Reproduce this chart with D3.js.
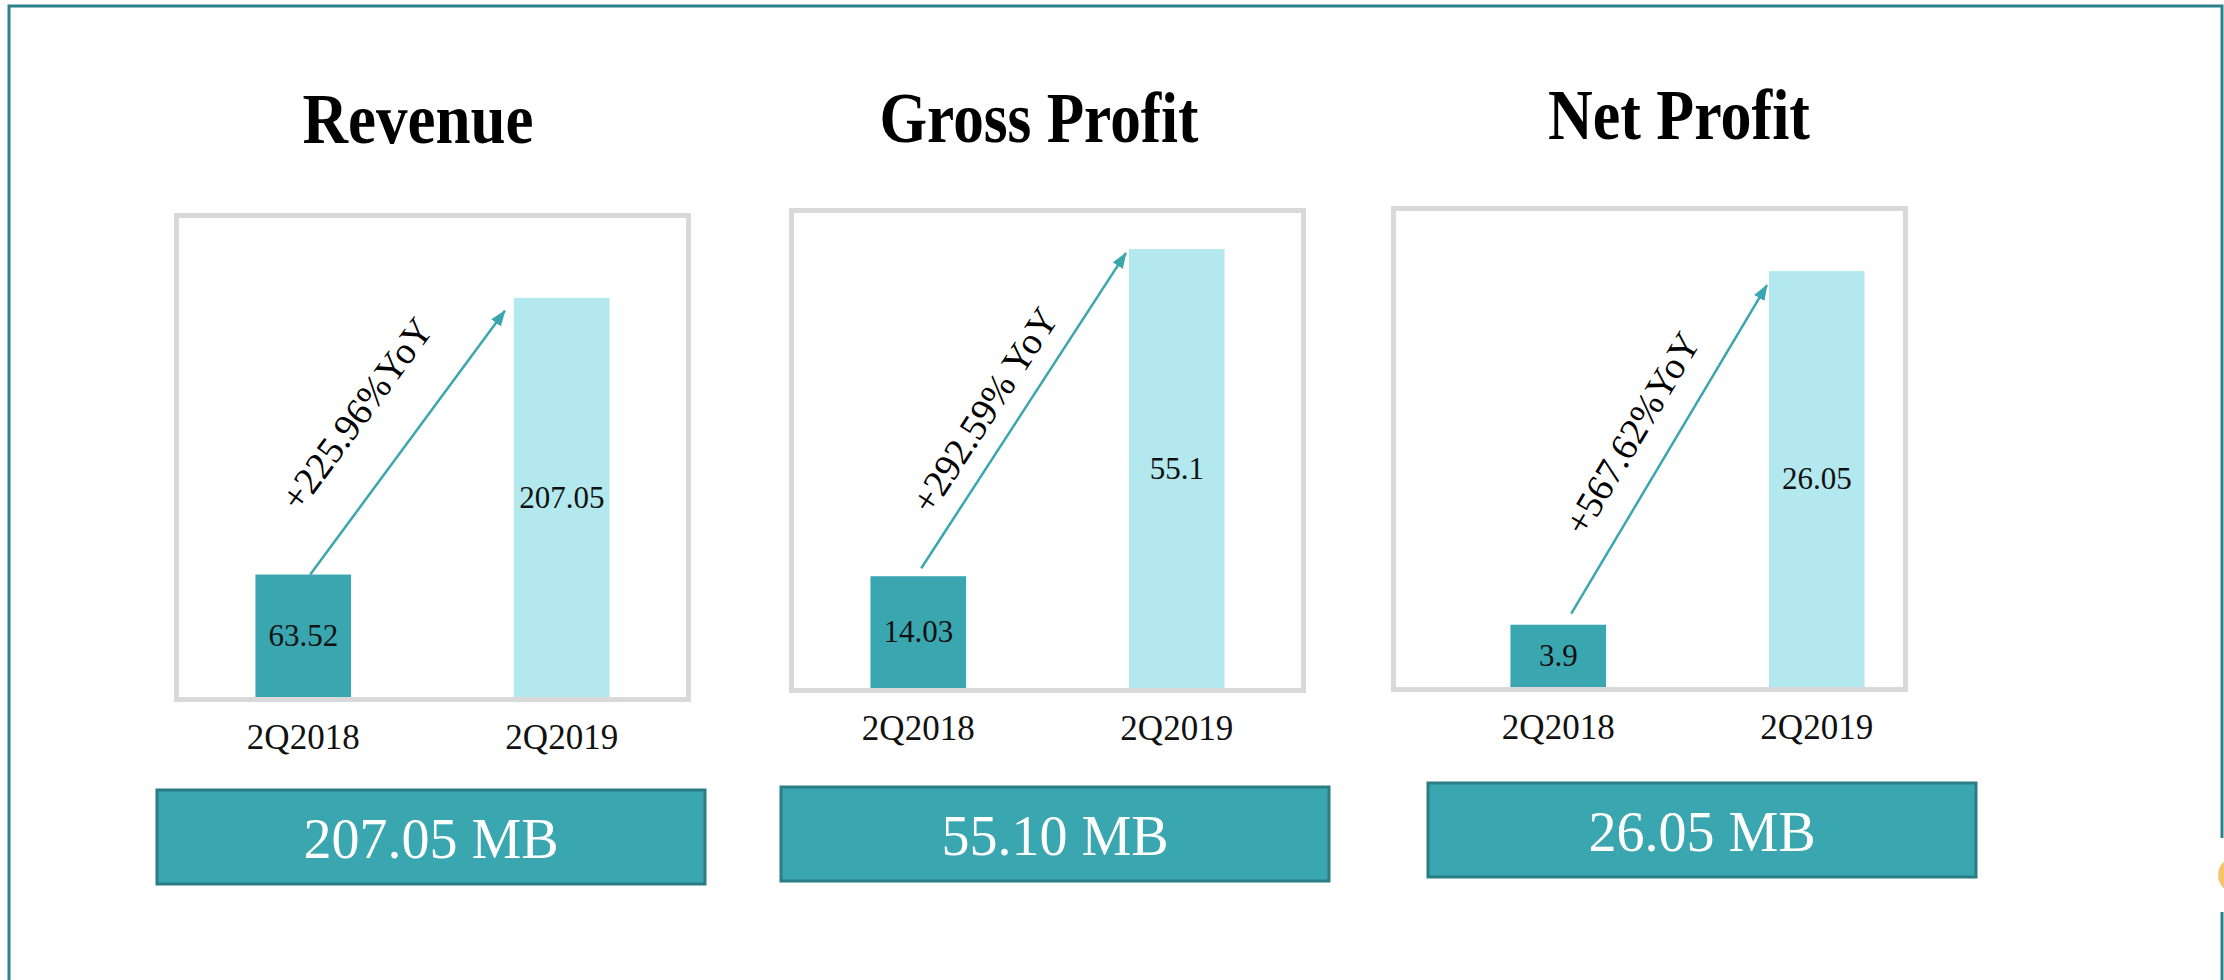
<!DOCTYPE html>
<html>
<head>
<meta charset="utf-8">
<script src="https://cdn.jsdelivr.net/npm/d3@7"></script>
<style>
  html, body { margin: 0; padding: 0; background: #fff; }
  svg { display: block; }
</style>
</head>
<body>
<div id="chart"></div>
<script>
// data
var metrics = ["Revenue", "Gross Profit", "Net Profit"];
var periods = ["2Q2018", "2Q2019"];
var values2018 = [63.52, 14.03, 3.9];
var values2019 = [207.05, 55.1, 26.05];
var yoyLabels = ["+225.96%YoY", "+292.59% YoY", "+567.62%YoY"];
var totals = ["207.05 MB", "55.10 MB", "26.05 MB"];
var axisMax = [250, 60, 30];

// colours
var darkTeal = "#3aa6b0";
var lightTeal = "#b3e8ee";
var frameTeal = "#2d8289";

var svgWidth = 2224;
var svgHeight = 980;

// per-panel layout (pixels)
var panels = [
  {boxX: 174, boxY: 213, boxW: 517, axisY: 697, barShift: 0, titleX: 418, titleY: 143, titleW: 231,
   arrow: {sx: 7, sy: 0, ex: 9, ey: 13}, off: {perp: 58, along: -7}, sumX: 157, sumY: 790},
  {boxX: 789, boxY: 208, boxW: 517, axisY: 688, barShift: 0, titleX: 1039, titleY: 142, titleW: 319,
   arrow: {sx: 3, sy: 8, ex: 3, ey: 4}, off: {perp: 33, along: -21}, sumX: 781, sumY: 787},
  {boxX: 1391, boxY: 206, boxW: 517, axisY: 687, barShift: 38, titleX: 1679, titleY: 139, titleW: 262,
   arrow: {sx: 13, sy: 11, ex: 2, ey: 14}, off: {perp: 40, along: -5}, sumX: 1428, sumY: 783}
];
var sumW = 548, sumH = 94;

var svg = d3.select("#chart")
  .append("svg")
  .attr("width", svgWidth)
  .attr("height", svgHeight);

// arrow head
svg.append("defs").append("marker")
  .attr("id", "arrowHead")
  .attr("markerUnits", "userSpaceOnUse")
  .attr("viewBox", "0 0 16 12")
  .attr("markerWidth", 16)
  .attr("markerHeight", 12)
  .attr("refX", 15)
  .attr("refY", 6)
  .attr("orient", "auto")
  .append("path")
  .attr("d", "M0,0 L16,6 L0,12 Z")
  .attr("fill", darkTeal);

// outer frame
svg.append("rect")
  .attr("x", 9)
  .attr("y", 6)
  .attr("width", 2213)
  .attr("height", 1000)
  .attr("fill", "none")
  .attr("stroke", frameTeal)
  .attr("stroke-width", 3);

// little cut-off badge on the right edge
svg.append("rect")
  .attr("x", 2214).attr("y", 838).attr("width", 12).attr("height", 74)
  .attr("fill", "#fff");
svg.append("circle")
  .attr("cx", 2236).attr("cy", 875).attr("r", 18)
  .attr("fill", "#f6c46e");

panels.forEach(function(p, i) {
  var g = svg.append("g");
  var vals = [values2018[i], values2019[i]];

  // title (condensed bold serif)
  g.append("text")
    .attr("x", p.titleX - p.titleW / 2)
    .attr("y", p.titleY)
    .attr("textLength", p.titleW)
    .attr("lengthAdjust", "spacingAndGlyphs")
    .attr("font-family", "Liberation Serif")
    .attr("font-weight", "bold")
    .attr("font-size", "71px")
    .attr("fill", "#000")
    .text(metrics[i]);

  // scales
  var x = d3.scaleBand()
    .domain(periods)
    .range([p.boxX + p.barShift, p.boxX + p.boxW + p.barShift])
    .paddingInner(0.63)
    .paddingOuter(0.315);

  var y = d3.scaleLinear()
    .domain([0, axisMax[i]])
    .range([p.axisY, p.boxY + 2]);

  // grey frame around the plot
  g.append("rect")
    .attr("x", p.boxX + 2.5)
    .attr("y", p.boxY + 2.5)
    .attr("width", p.boxW - 5)
    .attr("height", p.axisY - p.boxY)
    .attr("fill", "none")
    .attr("stroke", "#d9d9d9")
    .attr("stroke-width", 5);

  // bars
  g.selectAll("rect.bar")
    .data(vals)
    .enter()
    .append("rect")
    .attr("class", "bar")
    .attr("x", function(d, j) { return x(periods[j]); })
    .attr("y", function(d) { return y(d); })
    .attr("width", x.bandwidth())
    .attr("height", function(d) { return p.axisY - y(d); })
    .attr("fill", function(d, j) { return j === 0 ? darkTeal : lightTeal; });

  // value labels in the middle of each bar
  g.selectAll("text.val")
    .data(vals)
    .enter()
    .append("text")
    .attr("class", "val")
    .attr("x", function(d, j) { return x(periods[j]) + x.bandwidth() / 2; })
    .attr("y", function(d) { return (y(d) + p.axisY) / 2; })
    .attr("dy", "0.33em")
    .attr("text-anchor", "middle")
    .attr("font-family", "Liberation Serif")
    .attr("font-size", "31px")
    .attr("fill", "#111")
    .text(function(d) { return d; });

  // category axis
  var xAxis = d3.axisBottom(x).tickSize(0).tickPadding(27);
  var ax = g.append("g")
    .attr("transform", "translate(0," + p.axisY + ")")
    .call(xAxis);
  ax.select(".domain").remove();
  ax.selectAll("text")
    .attr("font-family", "Liberation Serif")
    .attr("font-size", "35px")
    .attr("fill", "#111");

  // growth arrow
  var x1 = x(periods[0]) + x.bandwidth() / 2 + p.arrow.sx;
  var y1 = y(vals[0]) - p.arrow.sy;
  var x2 = x(periods[1]) - p.arrow.ex;
  var y2 = y(vals[1]) + p.arrow.ey;
  g.append("line")
    .attr("x1", x1).attr("y1", y1)
    .attr("x2", x2).attr("y2", y2)
    .attr("stroke", darkTeal)
    .attr("stroke-width", 2.5)
    .attr("marker-end", "url(#arrowHead)");

  var len = Math.hypot(x2 - x1, y2 - y1);
  var dx = (x2 - x1) / len, dy = (y2 - y1) / len;
  var mx = (x1 + x2) / 2 + dy * p.off.perp + dx * p.off.along;
  var my = (y1 + y2) / 2 - dx * p.off.perp + dy * p.off.along;
  var angle = Math.atan2(dy, dx) * 180 / Math.PI;
  g.append("text")
    .attr("transform", "translate(" + mx + "," + my + ") rotate(" + angle + ")")
    .attr("text-anchor", "middle")
    .attr("dominant-baseline", "central")
    .attr("font-family", "Liberation Serif")
    .attr("font-size", "38px")
    .attr("fill", "#000")
    .text(yoyLabels[i]);

  // summary box
  g.append("rect")
    .attr("x", p.sumX)
    .attr("y", p.sumY)
    .attr("width", sumW)
    .attr("height", sumH)
    .attr("fill", darkTeal)
    .attr("stroke", "#2a7d84")
    .attr("stroke-width", 3);

  g.append("text")
    .attr("x", p.sumX + sumW / 2)
    .attr("y", p.sumY + sumH / 2 + 2)
    .attr("dy", "0.34em")
    .attr("text-anchor", "middle")
    .attr("font-family", "Liberation Serif")
    .attr("font-size", "56px")
    .attr("fill", "#fff")
    .text(totals[i]);
});
</script>
</body>
</html>
